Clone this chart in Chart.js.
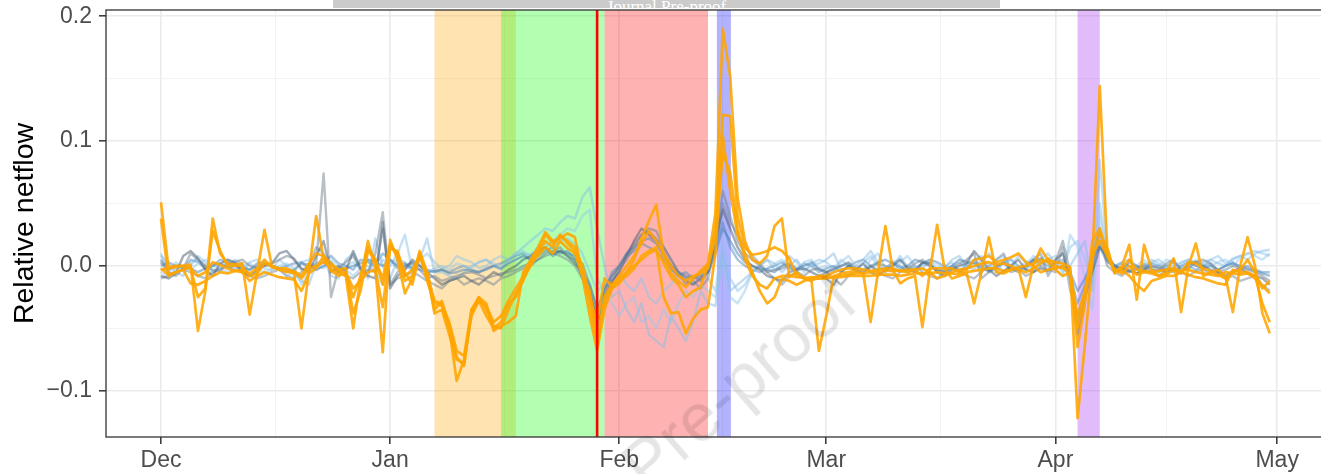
<!DOCTYPE html>
<html>
<head>
<meta charset="utf-8">
<script src="https://cdn.jsdelivr.net/npm/chart.js@4.4.1/dist/chart.umd.min.js"></script>
<style>
  html, body { margin: 0; padding: 0; background: #fff; overflow: hidden; }
  #wrap { position: relative; width: 1321px; height: 474px; overflow: hidden; }
  #chart { position: absolute; left: 0; top: 0; }
  #banner { position: absolute; left: 333px; top: 0; width: 667px; height: 8px; background: #CBCBCB; overflow: hidden; }
  #banner span { position: absolute; left: 0; right: 0; bottom: -9px; text-align: center; font: 17px "Liberation Serif"; color: #fff; }
  #mark { position: absolute; left: 738px; top: 382px; transform: translate(-50%, -50%) rotate(-41deg);
          font: 68px "Liberation Sans"; color: rgba(0, 0, 0, 0.1); white-space: nowrap; pointer-events: none; }
</style>
</head>
<body>
<div id="wrap">
  <canvas id="chart" width="1325" height="474"></canvas>
  <div id="banner"><span>Journal Pre-proof</span></div>
  <div id="mark">Pre-proof</div>
</div>
<script>
// x = days since 1 Dec, y = relative netflow in thousandths
const monthTicks = [0, 31, 62, 90, 121, 151];
const monthLabels = ['Dec', 'Jan', 'Feb', 'Mar', 'Apr', 'May'];
const minorXTicks = [15.5, 46.5, 76, 105.5, 136];
const yMajorTicks = [-100, 0, 100, 200];
const yMajorLabels = ['\u22120.1', '0.0', '0.1', '0.2'];
const yMinorTicks = [-50, 50, 150];

// shaded periods (days) and event line
const bandStart = [37, 46, 60, 75.2, 124];
const bandEnd = [48, 60, 74, 77.1, 127];
const eventDay = 59;

// highlighted series (orange)
const orange1 = [
  51,-1,0,0,1,-52,-20,38,10,2, 1,2,-39,-5,29,0,-3,-4,-6,-50, -5,40,5,-3,-5,-8,-50,-10,20,-2, -69,
  21,5,-22,-10,12,-5,-38,-35,-55,-75, -78,-35,-25,-30,-52,-48,-45,-40,-5,5, 15,27,20,22,26,23,-8,-40,-68,-35,-18,
  -14,-5,5,22,36,49,8,-6,-12,-17, -10,-4,2,42,190,152,55,20,5,2, 8,32,38,-9,-5,-10,-12,-68,
  -40,-8,-6,-5,-4,-6,-45,-5,32,-3, -14,-10,-8,-49,-5,33,-2,-10,-8,-6, -30,-5,23,-5,-6,-3,-2,-25,0,14,5,
  3,2,-1,-122,-62,5,144,15,-6,0, 17,-27,17,-3,-8,-5,6,-37,0,18, -8,-5,-3,-8,-37,0,23,0,-38,-54
];
const orange2 = [
  38,-8,-5,-3,-14,-15,-12,-8,-5,-6, -4,-5,-12,-8,-5,-7,-9,-10,-11,-20, -6,-2,8,-4,-8,-5,-18,-12,-5,-3, -33,
  15,10,-5,-15,10,-12,-30,-32,-50,-92, -75,-40,-28,-40,-50,-45,-30,-25,-10,0, 10,20,15,25,18,12,-5,-30,-62,-25,-15,
  -10,-5,0,5,10,13,2,-9,-15,-25, -20,-17,1,30,121,120,40,15,9,10, 12,15,12,6,-8,-10,-9,-10,
  -9,-9,-8,-7,-6,-6,-5,-5,-4,-4, -4,-3,-3,-8,-2,-2,-2,-2,-5,-3, 5,6,8,3,5,7,10,3,0,-5,-3,
  -2,0,-8,-50,-20,5,27,13,-5,-3, -8,-15,-20,-12,-10,-8,-8,-5,-7,-9, -10,-12,-14,-15,-3,-5,-5,-8,-30,-45
];
const orange3 = [
  -2,-7,-5,-3,-1,-25,-18,28,12,0, 0,0,-8,-6,2,0,-2,-2,-5,-10, -2,0,3,0,-3,-2,-38,-20,12,5, -15,
  14,12,-8,-3,8,-5,-28,-30,-45,-68, -72,-35,-28,-32,-45,-40,-28,-18,-8,3, 8,15,10,20,14,10,-8,-20,-58,-30,-18,
  -12,-8,-2,8,12,15,-25,-38,-37,-54, -42,-35,-33,10,104,60,25,10,-5,-20, -30,-25,-10,-12,-15,-12,-10,-8,
  -8,-5,-3,-2,-2,-3,-4,-3,-2,-2, -4,-5,-3,-2,-5,-10,-8,-5,-3,-2, 0,2,3,1,2,0,-3,-5,-2,2,6,
  0,-2,-3,-65,-30,20,30,10,-3,-6, 0,-7,-5,-6,-8,-7,-3,-5,3,2, -2,-4,-7,-10,-5,-3,5,-5,-18,-12
];
const orange4 = [
  -3,-2,-1,0,-2,-8,-5,3,1,-2, -4,-3,-6,-2,5,-1,-3,-5,-4,-8, 2,10,8,2,-3,-6,-25,-8,15,5, -10,
  18,8,-12,-8,8,-8,-35,-28,-48,-73, -80,-38,-25,-35,-48,-50,-35,-22,-12,2, 12,25,18,24,20,15,0,-25,-45,-10,-16,
  -8,0,8,18,28,20,10,0,-8,-12, -8,-6,-2,25,90,75,30,5,-8,-15, -18,-10,-8,-8,-9,-9,-11,-10,
  -10,-9,-9,-8,-8,-8,-8,-7,-7,-7, -8,-7,-6,-6,-6,-5,-6,-6,-7,-5, -4,-3,-2,-2,-4,-3,-1,0,2,5,3,
  -3,-8,-5,-40,-20,10,20,8,-4,-2, 5,-3,-4,-5,-4,-3,-2,-4,-3,-5, -6,-7,-8,-5,-6,-7,-6,-10,-16,-22
];

// background series (grey / blue)
const grey1 = [
  3,-5,-8,-2,10,5,0,-3,-4,2, 3,5,0,-2,1,2,5,8,6,-3, -1,2,74,-25,-2,3,8,-3,-5,10, 43,
  -15,-5,0,2,-3,-10,-8,-12,-10,-8, -6,-5,-7,-10,-8,-6,-5,-3,0,2, 5,10,12,15,8,5,2,-15,-35,-20,-8,
  -2,5,15,25,30,28,15,5,-5,-10, -8,-12,-5,15,60,40,20,10,5,0, -5,-3,-2,0,-5,-8,-3,-2,
  -5,-2,0,3,-2,-5,-1,2,0,-3, -4,-2,2,5,0,-3,-5,-2,2,5, 10,-10,-5,0,3,-2,-5,0,5,10,-8,
  3,20,-5,-45,-20,5,30,5,-2,-3, -5,-2,0,-4,-3,2,5,-4,-2,3, 5,2,-5,-3,0,-2,-3,-5,-8,-12
];
const grey2 = [
  -8,-10,-6,8,12,6,-3,-8,2,5, 3,-5,-8,-3,0,2,10,12,5,-2, -5,8,20,-5,0,-4,12,-2,-8,-10, 35,
  -18,-8,-3,5,0,-5,-10,-15,-12,-10, -8,-12,-15,-10,-5,-8,-3,0,5,8, 12,15,10,12,8,2,-5,-20,-45,-25,-12,
  -5,8,20,30,25,20,10,0,-8,-12, -15,-10,-5,20,45,30,15,5,0,-3, -8,-10,-12,-5,-3,-2,-5,-8,
  -10,-15,-5,0,-3,2,-5,-8,-3,0, 5,-2,-5,3,2,-5,-8,-3,0,2, 12,5,-3,-8,-4,0,5,-3,-5,-2,-4,
  5,10,-10,-55,-25,-5,15,8,0,-2, -4,-6,-3,0,-2,-5,-3,-6,2,3, 0,-3,-5,-8,-4,-2,-6,-8,-10,-15
];
const steel1 = [
  5,-3,0,0,-2,-5,-2,0,2,-1, 0,-2,-3,0,1,0,-2,-4,-3,2, 1,-3,0,3,-5,-2,0,2,5,3, 0,
  5,0,2,-2,-3,-5,-4,-3,-6,-5, -3,-4,-5,-2,0,-2,2,5,8,5, 10,15,8,12,10,8,-10,-25,-40,-18,-8,
  0,10,15,20,22,18,8,0,-5,-8, -10,-8,-5,10,30,20,10,3,0,-2, -3,-5,0,2,-2,0,3,-3,
  -5,-3,0,2,-4,-6,0,3,5,2, -2,0,5,3,0,-3,-5,0,5,3, 2,-2,-4,0,2,-3,-2,0,4,6,3,
  -2,0,-5,-20,-10,5,18,5,0,-3, 3,0,-2,2,0,-3,-5,0,3,0, -2,0,-3,0,2,0,-2,-4,-6,-8
];
const sky1 = [
  8,2,-5,-8,3,5,0,-5,-3,0, 5,2,-8,-5,2,0,-3,-8,-5,-12, -15,2,5,-8,-10,5,10,-3,-10,22, 0,
  -10,5,3,-5,5,22,-5,-5,-8,-10, -5,0,3,5,0,-3,5,10,15,20, 25,30,28,35,40,38,55,63,30,0,-25,
  -20,-35,-45,-30,-55,-60,-65,-40,-50,-60, -45,-20,-30,-32,10,-20,-15,-10,-5,0, 5,2,-5,0,5,-3,0,2,
  5,10,-3,-8,0,5,12,3,-5,0, 8,-2,-5,0,3,-5,-2,5,8,0, -3,5,10,2,-5,0,8,3,-3,5,10,
  2,-5,0,10,20,-20,85,10,0,-5, 5,0,-3,5,2,-2,0,3,5,0, 3,5,2,0,6,8,5,10,12,13
];
const sky2 = [
  -5,-8,-2,0,-3,2,5,0,-2,-5, -3,0,2,-2,-5,-3,0,2,-2,-15, -5,0,-2,5,0,-3,-8,-2,0,-5, -15,
  3,5,-2,0,2,-5,-2,0,-3,2, 0,-2,3,5,2,0,3,5,8,10, 12,15,20,25,30,28,40,45,-10,-20,-30,
  -40,-30,-25,-45,-40,-50,-35,-45,-30,-20, -25,-15,-20,-25,5,-25,-30,-20,-5,0, -3,2,5,0,-5,3,5,-2,
  0,-5,3,8,0,-3,5,10,-2,-5, 3,8,0,-3,5,2,-5,0,3,-2, 5,8,0,-5,3,5,-2,0,8,5,0,
  -3,-8,25,15,-10,-35,40,5,-2,3, -5,0,5,-2,0,5,3,-3,0,5, 2,0,3,5,0,6,10,8,5,10
];
const grey3 = [
  -10,-8,-5,-3,-5,-8,-10,-5,-2,0, -3,-5,-8,-10,-8,-5,-3,-8,-10,-5, 0,15,10,-3,-5,-8,-10,-5,-3,-5, 30,
  -15,-10,-8,-5,-8,-12,-15,-18,-12,-10, -15,-12,-10,-12,-15,-10,-8,-5,-2,0, 5,8,10,8,5,0,-10,-20,-50,-30,-15,
  0,10,18,25,28,22,15,5,-5,-15, -12,-18,-10,15,50,35,25,15,8,2, -5,-10,-15,-8,-5,-10,-12,-8,
  -5,-10,-15,-8,-5,-3,0,-5,-8,-10, -5,-3,0,-5,-8,-10,-5,0,-3,-8, -10,-5,0,5,10,-5,-3,-8,-5,0,-3,
  -5,15,-20,-40,-20,0,25,0,-5,-8, -3,-6,-3,-5,-8,-3,-2,-5,-8,-4, -3,-6,-5,-10,-8,-12,-10,-8,-15,-20
];
const steel2 = [
  0,3,0,-2,5,3,-2,0,5,3, 2,0,-3,2,3,0,-2,0,2,3, -2,0,3,8,2,0,-3,5,3,0, 10,
  5,-2,0,3,0,-3,-5,-3,-5,-2, 0,-3,-5,-3,0,2,5,8,10,5, 8,12,15,10,12,5,-5,-15,-35,-20,-5,
  0,8,12,18,15,12,5,-3,-8,-5, -10,-5,0,15,35,15,5,0,-3,-5, -2,0,3,-2,-3,2,0,-5,
  -2,0,-5,0,3,5,0,-3,-2,3, 0,-5,-2,2,5,3,0,-2,-5,0, 3,0,-5,-2,3,5,0,-3,5,3,0,
  2,5,-8,-30,-15,5,15,3,0,2, 0,-3,2,-2,-5,0,3,-2,0,-3, 0,2,-3,0,3,-2,0,-3,-5,-5
];
const sky3 = [
  10,-5,3,-3,0,8,3,-5,-2,5, 0,-5,3,5,-2,-3,5,0,-5,3, 5,-3,0,2,-5,0,3,-2,5,-5, 5,
  0,10,25,-3,5,10,3,-2,0,8, 5,3,-2,0,5,8,5,10,12,8, 15,18,15,20,22,18,10,-5,-20,-15,-10,
  -5,-15,-20,-10,-25,-30,-20,-15,-5,-10, -15,-5,-10,-20,20,-10,-20,-15,-5,0, 5,-3,0,8,3,-5,2,5,
  3,-2,5,0,-3,2,8,0,-5,3, 5,0,-3,2,5,-2,0,3,-5,2, 5,0,-3,5,8,0,-2,3,5,0,5,
  8,-2,15,20,5,-15,50,8,0,3, 5,-2,0,3,5,0,-3,2,5,3, 0,5,8,2,5,8,10,12,10,8
];

const days = orange1.map((v, i) => i);

const highlight = [orange1, orange2, orange3, orange4];
const background = [grey1, grey2, steel1, sky1, sky2, grey3, steel2, sky3];
const bgColors = [
  'rgba(112,128,144,0.5)', 'rgba(70,90,110,0.5)', 'rgba(70,130,180,0.5)', 'rgba(135,190,230,0.5)',
  'rgba(150,200,235,0.5)', 'rgba(120,135,150,0.5)', 'rgba(80,140,190,0.5)', 'rgba(140,195,235,0.5)'
];
const bandColors = [
  'rgba(255,165,0,0.3)', 'rgba(0,255,0,0.3)', 'rgba(255,0,0,0.3)', 'rgba(0,0,255,0.3)', 'rgba(160,32,240,0.3)'
];

const datasets = [];
highlight.forEach(s => datasets.push({ data: s, borderColor: 'rgba(255,165,0,0.88)', borderWidth: 2.7 }));
background.forEach((s, i) => datasets.push({ data: s, borderColor: bgColors[i], borderWidth: 2.4 }));

const isMinorX = v => minorXTicks.includes(v);
const isMinorY = v => yMinorTicks.includes(v);

const panelPlugin = {
  id: 'panel',
  beforeDatasetsDraw(chart) {
    const { ctx, chartArea: a, scales: { x } } = chart;
    ctx.save();
    ctx.beginPath();
    ctx.rect(a.left, a.top, a.right - a.left, a.bottom - a.top);
    ctx.clip();
    bandStart.forEach((s, i) => {
      const x0 = x.getPixelForValue(s);
      const x1 = x.getPixelForValue(bandEnd[i]);
      ctx.fillStyle = bandColors[i];
      ctx.fillRect(x0, a.top, x1 - x0, a.bottom - a.top);
    });
    ctx.restore();
  },
  afterDatasetsDraw(chart) {
    const { ctx, chartArea: a, scales: { x } } = chart;
    ctx.save();
    const ex = x.getPixelForValue(eventDay);
    ctx.strokeStyle = '#FF0000';
    ctx.lineWidth = 2.6;
    ctx.beginPath();
    ctx.moveTo(ex, a.top);
    ctx.lineTo(ex, a.bottom);
    ctx.stroke();
    ctx.strokeStyle = '#333333';
    ctx.lineWidth = 1.3;
    ctx.strokeRect(a.left, a.top, a.right - a.left, a.bottom - a.top);
    ctx.restore();
  },
  afterDraw(chart) {
    const { ctx, chartArea: a } = chart;
    ctx.save();
    ctx.translate(33, (a.top + a.bottom) / 2);
    ctx.rotate(-Math.PI / 2);
    ctx.font = '28.5px "Liberation Sans"';
    ctx.fillStyle = '#000';
    ctx.textAlign = 'center';
    ctx.textBaseline = 'alphabetic';
    ctx.fillText('Relative netflow', 0, 0);
    ctx.restore();
  }
};

new Chart(document.getElementById('chart'), {
  type: 'line',
  data: { labels: days, datasets: datasets },
  options: {
    responsive: false,
    devicePixelRatio: 1,
    animation: false,
    events: [],
    layout: { padding: { left: 0, top: 10, right: 2, bottom: 0 } },
    elements: { point: { radius: 0 }, line: { tension: 0, borderJoinStyle: 'round' } },
    plugins: { legend: { display: false }, tooltip: { enabled: false } },
    scales: {
      x: {
        type: 'linear',
        min: -7.44,
        max: 157.2,
        afterBuildTicks: s => { s.ticks = monthTicks.concat(minorXTicks).map(v => ({ value: v })); },
        afterFit: s => { s.height = 37; s.paddingLeft = 0; s.paddingRight = 0; },
        border: { display: false },
        grid: {
          color: c => (c.tick && isMinorX(c.tick.value)) ? '#F2F2F2' : '#EBEBEB',
          lineWidth: c => (c.tick && isMinorX(c.tick.value)) ? 0.9 : 1.6,
          tickColor: c => (c.tick && isMinorX(c.tick.value)) ? 'rgba(0,0,0,0)' : '#333333',
          tickWidth: 1.5,
          tickLength: 7
        },
        ticks: {
          autoSkip: false,
          maxRotation: 0,
          padding: 3,
          color: '#4D4D4D',
          font: { family: 'Liberation Sans', size: 23 },
          callback: v => { const i = monthTicks.indexOf(v); return i >= 0 ? monthLabels[i] : ''; }
        }
      },
      y: {
        min: -137,
        max: 205,
        afterBuildTicks: s => { s.ticks = yMajorTicks.concat(yMinorTicks).map(v => ({ value: v })); },
        afterFit: s => { s.width = 106; s.paddingTop = 0; s.paddingBottom = 0; },
        border: { display: false },
        grid: {
          color: c => (c.tick && isMinorY(c.tick.value)) ? '#F2F2F2' : '#EBEBEB',
          lineWidth: c => (c.tick && isMinorY(c.tick.value)) ? 0.9 : 1.6,
          tickColor: c => (c.tick && isMinorY(c.tick.value)) ? 'rgba(0,0,0,0)' : '#333333',
          tickWidth: 1.5,
          tickLength: 7
        },
        ticks: {
          autoSkip: false,
          padding: 7,
          color: '#4D4D4D',
          font: { family: 'Liberation Sans', size: 23 },
          callback: v => { const i = yMajorTicks.indexOf(v); return i >= 0 ? yMajorLabels[i] : ''; }
        }
      }
    }
  },
  plugins: [panelPlugin]
});
</script>
</body>
</html>
